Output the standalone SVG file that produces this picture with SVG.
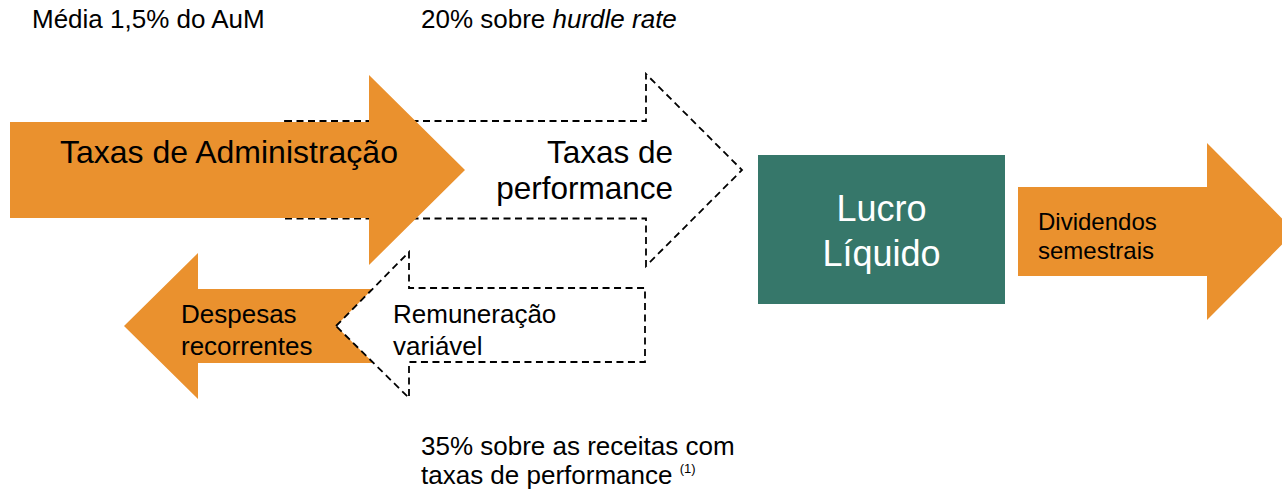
<svg xmlns="http://www.w3.org/2000/svg" width="1282" height="490" viewBox="0 0 1282 490">
  <style>
    text { font-family: "Liberation Sans", Arial, sans-serif; fill: #000; }
    .orange { fill: #EA912E; stroke: none; }
    .dashed { fill: #FFFFFF; stroke: #000; stroke-width: 1.8; stroke-dasharray: 7 4.5; }
    .green { fill: #36776A; }
    .lbl { font-size: 26px; }
    .big { font-size: 31.5px; }
    .white { fill: #FFFFFF; font-size: 36px; }
  </style>
  <g id="connectors">
    <g id="taxas-performance">
      <polygon class="dashed" points="285,121 646,121 646,74 742,170 646,266 646,218.5 285,218.5"/>
      <text class="big" x="673" y="163" text-anchor="end">Taxas de</text>
      <text class="big" x="673" y="199" text-anchor="end">performance</text>
    </g>
    <g id="taxas-administracao">
      <polygon class="orange" points="10,122 369,122 369,75 465,170 369,265 369,218 10,218"/>
      <text class="big" x="60" y="163" style="font-size:32px">Taxas de Administração</text>
    </g>
    <g id="despesas">
      <polygon class="orange" points="124,326 198,253 198,289 400,289 400,363 198,363 198,399"/>
      <text class="lbl" x="181" y="323">Despesas</text>
      <text class="lbl" x="181" y="355">recorrentes</text>
    </g>
    <g id="remuneracao">
      <polygon class="dashed" points="336,326 409,252 409,288 645,288 645,362 409,362 409,398"/>
      <text class="lbl" x="393" y="323">Remuneração</text>
      <text class="lbl" x="393" y="355">variável</text>
    </g>
    <g id="dividendos">
      <polygon class="orange" points="1018,187 1207,187 1207,143 1295,231.5 1207,320 1207,276 1018,276"/>
      <text style="font-size:24px" x="1038" y="230">Dividendos</text>
      <text style="font-size:24px" x="1038" y="259">semestrais</text>
    </g>
  </g>
  <g id="lucro-liquido">
    <rect class="green" x="758" y="155" width="247" height="149"/>
    <text class="white" x="881.5" y="221" text-anchor="middle">Lucro</text>
    <text class="white" x="881.5" y="266" text-anchor="middle">Líquido</text>
  </g>
  <g id="labels">
    <text class="lbl" x="32" y="28">Média 1,5% do AuM</text>
    <text class="lbl" x="421" y="28">20% sobre <tspan font-style="italic">hurdle rate</tspan></text>
    <text class="lbl" x="421" y="455">35% sobre as receitas com</text>
    <text class="lbl" x="421" y="484">taxas de performance <tspan font-size="13px" dy="-11">(1)</tspan></text>
  </g>
</svg>
